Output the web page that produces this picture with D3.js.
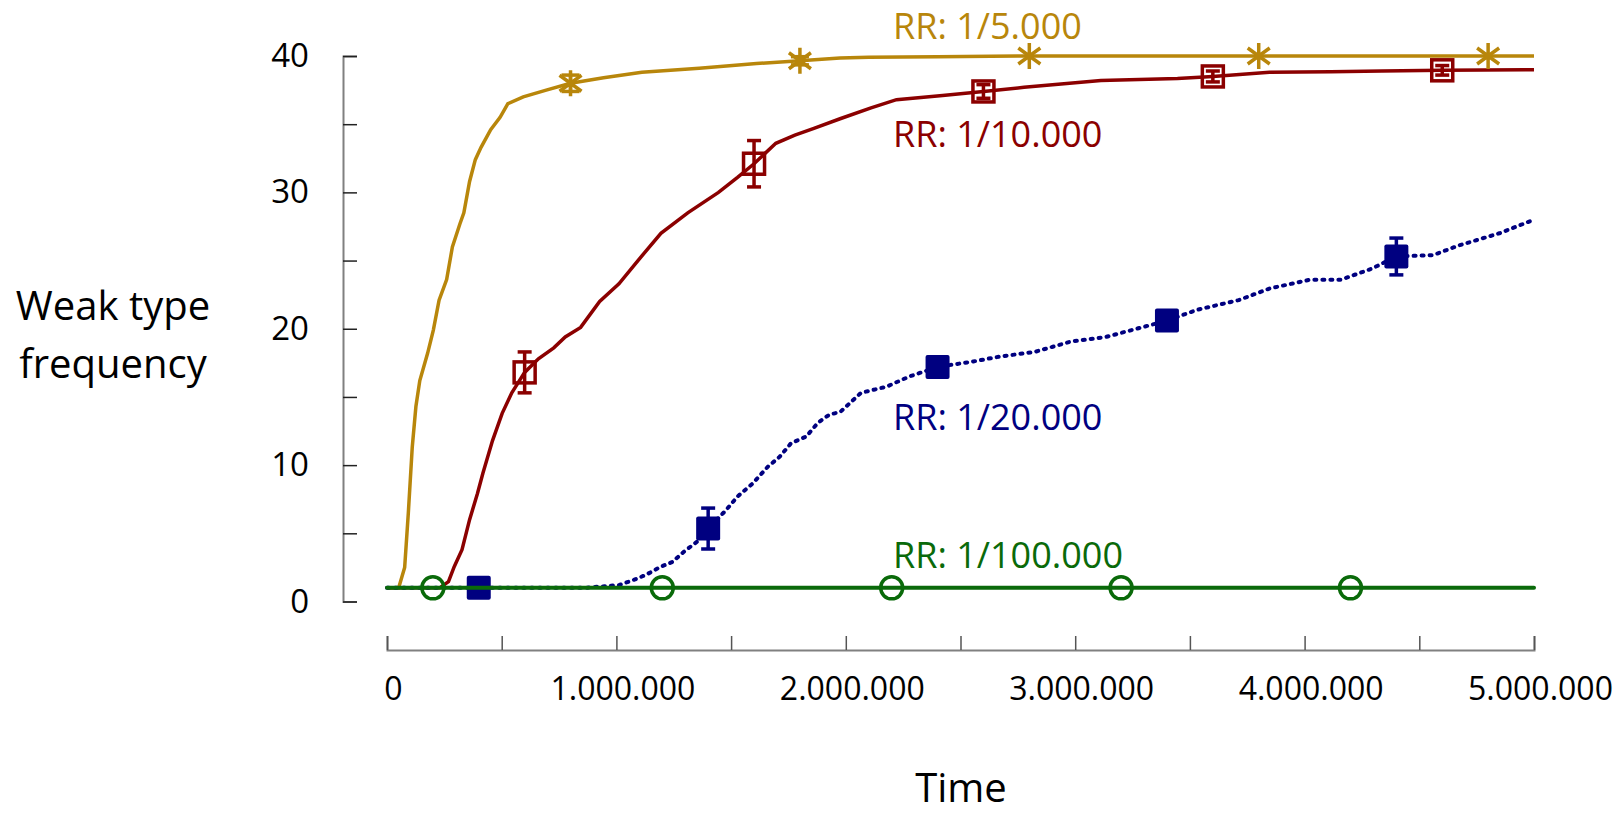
<html>
<script src="https://d3js.org/d3.v7.min.js"></script>
<style>
  body { margin: 0; background: #fff; font-family: 'Open Sans', sans-serif; }
</style>
<body>
<svg id="chart" width="1621" height="814"></svg>
<script>
// --- data (time in steps, value = weak type frequency) ---
const goldT = [0, 51e3, 77e3, 93e3, 110e3, 126e3, 143e3, 177e3, 202e3, 227e3, 260e3, 285e3, 318e3, 335e3, 360e3, 385e3, 410e3, 452e3, 493e3, 527e3, 594e3, 694e3, 800e3, 944e3, 1111e3, 1361e3, 1611e3, 1800e3, 1975e3, 2100e3, 2400e3, 2800e3, 3500e3, 4000e3, 5000e3];
const goldV = [1, 1, 2.5, 6.5, 11.3, 14.3, 16.2, 18.2, 19.9, 22.1, 23.6, 26.0, 27.7, 28.5, 30.8, 32.4, 33.3, 34.6, 35.5, 36.5, 37.0, 37.5, 38.0, 38.4, 38.8, 39.1, 39.45, 39.65, 39.85, 39.9, 39.95, 40, 40, 40, 40];

const redT = [0, 230e3, 268e3, 293e3, 327e3, 360e3, 394e3, 418e3, 460e3, 502e3, 544e3, 600e3, 660e3, 727e3, 777e3, 844e3, 927e3, 1011e3, 1094e3, 1194e3, 1311e3, 1445e3, 1528e3, 1600e3, 1695e3, 1778e3, 1861e3, 1975e3, 2110e3, 2221e3, 2422e3, 2600e3, 2777e3, 3112e3, 3446e3, 3600e3, 3847e3, 4114e3, 4337e3, 4600e3, 5000e3];
const redV = [1, 1, 1.45, 2.55, 3.8, 6.0, 7.9, 9.4, 11.8, 13.8, 15.3, 16.8, 17.8, 18.6, 19.4, 20.1, 22.0, 23.3, 25.0, 27.0, 28.5, 30.0, 31.1, 32.1, 33.6, 34.2, 34.7, 35.4, 36.2, 36.8, 37.1, 37.4, 37.7, 38.2, 38.35, 38.5, 38.8, 38.85, 38.9, 38.95, 39.0];

const blueT = [0, 860e3, 1011e3, 1078e3, 1128e3, 1194e3, 1244e3, 1294e3, 1361e3, 1400e3, 1478e3, 1528e3, 1594e3, 1661e3, 1711e3, 1761e3, 1828e3, 1878e3, 1928e3, 1976e3, 2066e3, 2177e3, 2277e3, 2400e3, 2556e3, 2667e3, 2823e3, 2979e3, 3134e3, 3268e3, 3400e3, 3534e3, 3713e3, 3847e3, 4025e3, 4159e3, 4292e3, 4400e3, 4560e3, 4671e3, 4849e3, 5000e3];
const blueV = [1, 1, 1.2, 1.6, 1.95, 2.55, 2.9, 3.65, 4.5, 5.35, 6.7, 7.7, 8.65, 9.9, 10.6, 11.6, 12.1, 13.1, 13.7, 13.9, 15.3, 15.75, 16.5, 17.2, 17.6, 17.95, 18.3, 19.05, 19.4, 20.0, 20.6, 21.4, 22.1, 22.95, 23.6, 23.6, 24.4, 25.3, 25.4, 26.1, 27.0, 28.0];

const greenT = [0, 5000e3];
const greenV = [1, 1];

// markers with error bars
const goldMarkT = [800e3, 1800e3, 2800e3, 3800e3, 4800e3];
const goldMarkV = [38.0, 39.65, 40, 40, 40];
const goldMarkE = [0.6, 0.3, 0, 0, 0];

const redMarkT = [600e3, 1600e3, 2600e3, 3600e3, 4600e3];
const redMarkV = [16.8, 32.1, 37.4, 38.5, 38.95];
const redMarkE = [1.5, 1.7, 0.5, 0.4, 0.35];

const blueMarkT = [400e3, 1400e3, 2400e3, 3400e3, 4400e3];
const blueMarkV = [1, 5.35, 17.2, 20.6, 25.3];
const blueMarkE = [0, 1.5, 0.3, 0.7, 1.35];

const greenMarkT = [200e3, 1200e3, 2200e3, 3200e3, 4200e3];
const greenMarkV = [1, 1, 1, 1, 1];

const xTicks = [0, 500e3, 1000e3, 1500e3, 2000e3, 2500e3, 3000e3, 3500e3, 4000e3, 4500e3, 5000e3];
const yTicks = [0, 5, 10, 15, 20, 25, 30, 35, 40];

const seriesLabels = ["RR: 1/5.000", "RR: 1/10.000", "RR: 1/20.000", "RR: 1/100.000"];

const gold = "#B8860B", red = "#8B0000", blue = "#000080", green = "#0A6A0A";

let svg = d3.select("svg#chart");

let xScale = d3.scaleLinear().domain([0, 5e6]).range([387, 1534]);
let yScale = d3.scaleLinear().domain([0, 40]).range([601.5, 56]);

const locale = d3.formatLocale({decimal: ",", thousands: ".", grouping: [3], currency: ["", ""]});
const fmt = locale.format(",d");

// x axis (offset below the plot, ticks pointing up)
const xAxis = d3.axisBottom(xScale)
    .tickValues(xTicks)
    .tickSize(-14)
    .tickPadding(27)
    .tickFormat(d => d % 1e6 === 0 ? fmt(d) : "");

let gx = svg.append("g")
    .attr("transform", "translate(0,650)")
    .call(xAxis);
gx.select(".domain").attr("stroke", "#808080").attr("stroke-width", 2);
gx.selectAll(".tick line").attr("stroke", "#555").attr("stroke-width", 1.5);
gx.selectAll("text").attr("font-size", 32).attr("font-family", "'Open Sans', sans-serif").attr("fill", "#000").attr("dx", 6);

// y axis (ticks pointing right)
const yAxis = d3.axisLeft(yScale)
    .tickValues(yTicks)
    .tickSize(-14)
    .tickPadding(34)
    .tickFormat(d => d % 10 === 0 ? d : "");

let gy = svg.append("g")
    .attr("transform", "translate(343,0)")
    .call(yAxis);
gy.select(".domain").attr("stroke", "#808080").attr("stroke-width", 2);
gy.selectAll(".tick line").attr("stroke", "#222").attr("stroke-width", 1.5);
gy.selectAll("text").attr("font-size", 33).attr("font-family", "'Open Sans', sans-serif").attr("fill", "#000");

// axis titles
svg.append("text")
    .attr("x", 961).attr("y", 802)
    .attr("text-anchor", "middle")
    .attr("font-size", 40)
    .text("Time");

svg.append("text")
    .attr("x", 113).attr("y", 320)
    .attr("text-anchor", "middle")
    .attr("font-size", 40)
    .text("Weak type");
svg.append("text")
    .attr("x", 113).attr("y", 378)
    .attr("text-anchor", "middle")
    .attr("font-size", 40)
    .text("frequency");

// lines
const line = d3.line().x(d => xScale(d[0])).y(d => yScale(d[1]));
const zip = (a, b) => a.map((t, i) => [t, b[i]]);

let plot = svg.append("g");

plot.append("path").datum(zip(goldT, goldV))
    .attr("d", line).attr("fill", "none").attr("stroke", gold).attr("stroke-width", 3.5);
plot.append("path").datum(zip(redT, redV))
    .attr("d", line).attr("fill", "none").attr("stroke", red).attr("stroke-width", 3.5);
plot.append("path").datum(zip(blueT, blueV))
    .attr("d", line).attr("fill", "none").attr("stroke", blue).attr("stroke-width", 4)
    .attr("stroke-dasharray", "2,6").attr("stroke-linecap", "round");

// error bars
function errorBars(ts, vs, es, color, cap) {
    const data = ts.map((t, i) => ({t: t, v: vs[i], e: es[i]})).filter(d => d.e > 0);
    const g = plot.append("g").attr("stroke", color).attr("stroke-width", 3.5);
    g.selectAll(".eb").data(data).enter().append("line")
        .attr("x1", d => xScale(d.t)).attr("x2", d => xScale(d.t))
        .attr("y1", d => yScale(d.v + d.e)).attr("y2", d => yScale(d.v - d.e));
    g.selectAll(".capt").data(data).enter().append("line")
        .attr("x1", d => xScale(d.t) - cap).attr("x2", d => xScale(d.t) + cap)
        .attr("y1", d => yScale(d.v + d.e)).attr("y2", d => yScale(d.v + d.e));
    g.selectAll(".capb").data(data).enter().append("line")
        .attr("x1", d => xScale(d.t) - cap).attr("x2", d => xScale(d.t) + cap)
        .attr("y1", d => yScale(d.v - d.e)).attr("y2", d => yScale(d.v - d.e));
}

// gold asterisks
errorBars(goldMarkT, goldMarkV, goldMarkE, gold, 9);
plot.selectAll(".star").data(goldMarkT).enter().append("path")
    .attr("transform", (d, i) => "translate(" + xScale(d) + "," + yScale(goldMarkV[i]) + ")")
    .attr("d", "M0,-13L0,13M-11,-8L11,8M-11,8L11,-8")
    .attr("stroke", gold).attr("stroke-width", 3.5).attr("fill", "none");

// red open squares
plot.selectAll(".rsq").data(redMarkT).enter().append("rect")
    .attr("x", d => xScale(d) - 10.5).attr("y", (d, i) => yScale(redMarkV[i]) - 10.5)
    .attr("width", 21).attr("height", 21)
    .attr("fill", "none").attr("stroke", red).attr("stroke-width", 3.5);
errorBars(redMarkT, redMarkV, redMarkE, red, 7);

// blue filled squares
errorBars(blueMarkT, blueMarkV, blueMarkE, blue, 7);
plot.selectAll(".bsq").data(blueMarkT).enter().append("rect")
    .attr("x", d => xScale(d) - 12).attr("y", (d, i) => yScale(blueMarkV[i]) - 12)
    .attr("width", 24).attr("height", 24).attr("rx", 2)
    .attr("fill", blue);

// green line and open circles on top
plot.append("path").datum(zip(greenT, greenV))
    .attr("d", line).attr("fill", "none").attr("stroke", green).attr("stroke-width", 4)
    .attr("stroke-linecap", "round");
plot.selectAll(".gc").data(greenMarkT).enter().append("circle")
    .attr("cx", d => xScale(d)).attr("cy", (d, i) => yScale(greenMarkV[i]))
    .attr("r", 11).attr("fill", "none").attr("stroke", green).attr("stroke-width", 3.5);

// series labels
const labelY = [39, 147, 430, 568];
const labelColors = [gold, red, blue, green];
svg.selectAll(".rr").data(seriesLabels).enter().append("text")
    .attr("x", 893).attr("y", (d, i) => labelY[i])
    .attr("font-size", 36)
    .attr("fill", (d, i) => labelColors[i])
    .text(d => d);
</script>
</body>
</html>
